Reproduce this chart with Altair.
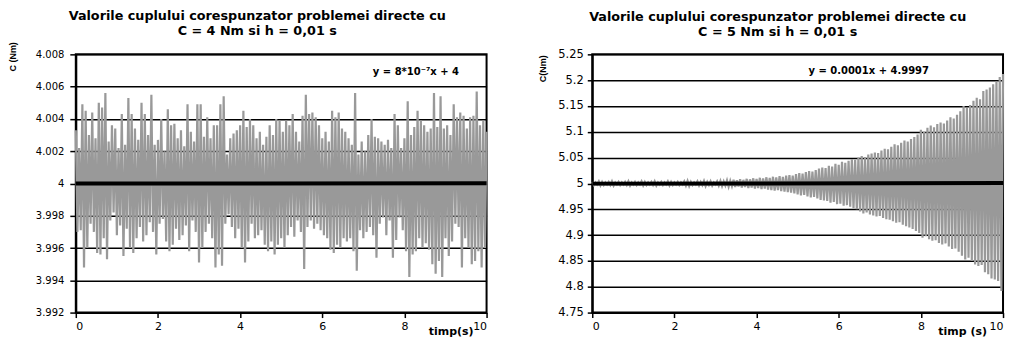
import altair as alt
import pandas as pd

# ---------------- data ----------------
STEP = 0.08  # spacing of successive upper (or lower) swing samples, seconds

left_upper = [
    4.0033, 4.0022, 4.0049, 4.0045, 4.0030, 4.0044, 4.0028, 4.0050, 4.0047, 4.0056,
    4.0026, 4.0036, 4.0034, 4.0022, 4.0043, 4.0024, 4.0053, 4.0043, 4.0034, 4.0027,
    4.0050, 4.0043, 4.0030, 4.0055, 4.0024, 4.0027, 4.0040, 4.0020, 4.0046, 4.0036,
    4.0037, 4.0028, 4.0033, 4.0023, 4.0049, 4.0032, 4.0026, 4.0049, 4.0049, 4.0029,
    4.0041, 4.0028, 4.0036, 4.0036, 4.0049, 4.0054, 4.0018, 4.0028, 4.0031, 4.0033,
    4.0036, 4.0045, 4.0035, 4.0040, 4.0036, 4.0028, 4.0032, 4.0024, 4.0029, 4.0036,
    4.0030, 4.0040, 4.0039, 4.0032, 4.0039, 4.0036, 4.0043, 4.0032, 4.0026, 4.0042,
    4.0055, 4.0043, 4.0044, 4.0041, 4.0036, 4.0028, 4.0032, 4.0026, 4.0045, 4.0041,
    4.0044, 4.0034, 4.0032, 4.0028, 4.0024, 4.0056, 4.0018, 4.0026, 4.0020, 4.0030,
    4.0040, 4.0029, 4.0028, 4.0026, 4.0024, 4.0027, 4.0022, 4.0043, 4.0036, 4.0022,
    4.0028, 4.0051, 4.0030, 4.0035, 4.0045, 4.0039, 4.0036, 4.0032, 4.0034, 4.0056,
    4.0035, 4.0054, 4.0034, 4.0036, 4.0030, 4.0049, 4.0041, 4.0044, 4.0042, 4.0034,
    4.0041, 4.0042, 4.0057, 4.0036, 4.0039, 4.0032,
]
left_lower = [
    3.9970, 3.9971, 3.9948, 3.9960, 3.9975, 3.9970, 3.9957, 3.9956, 3.9966, 3.9953,
    3.9977, 3.9982, 3.9968, 3.9974, 3.9955, 3.9972, 3.9960, 3.9957, 3.9966, 3.9973,
    3.9964, 3.9968, 3.9976, 3.9970, 3.9956, 3.9975, 3.9978, 3.9964, 3.9958, 3.9962,
    3.9972, 3.9965, 3.9968, 3.9974, 3.9958, 3.9977, 3.9970, 3.9951, 3.9960, 3.9970,
    3.9975, 3.9966, 3.9948, 3.9956, 3.9949, 3.9975, 3.9981, 3.9973, 3.9966, 3.9972,
    3.9960, 3.9951, 3.9964, 3.9975, 3.9966, 3.9968, 3.9971, 3.9962, 3.9958, 3.9964,
    3.9956, 3.9962, 3.9966, 3.9960, 3.9968, 3.9973, 3.9967, 3.9977, 3.9970, 3.9947,
    3.9973, 3.9977, 3.9972, 3.9975, 3.9971, 3.9968, 3.9966, 3.9959, 3.9957, 3.9962,
    3.9960, 3.9966, 3.9964, 3.9966, 3.9958, 3.9946, 3.9971, 3.9966, 3.9970, 3.9973,
    3.9968, 3.9954, 3.9975, 3.9979, 3.9968, 3.9977, 3.9954, 3.9965, 3.9979, 3.9971,
    3.9958, 3.9942, 3.9956, 3.9958, 3.9966, 3.9960, 3.9963, 3.9959, 3.9950, 3.9944,
    3.9952, 3.9942, 3.9966, 3.9955, 3.9964, 3.9975, 3.9973, 3.9948, 3.9966, 3.9960,
    3.9950, 3.9952, 3.9958, 3.9948, 3.9960,
]

right_upper = [
    5.003, 5.002, 5.004, 5.003, 5.002, 5.003, 5.004, 5.002, 5.003, 5.002,
    5.003, 5.004, 5.002, 5.003, 5.002, 5.004, 5.003, 5.002, 5.003, 5.004,
    5.002, 5.003, 5.002, 5.004, 5.003, 5.002, 5.003, 5.002, 5.004, 5.005,
    5.003, 5.002, 5.004, 5.003, 5.005, 5.003, 5.004, 5.002, 5.004, 5.005,
    5.004, 5.006, 5.005, 5.007, 5.006, 5.008, 5.007, 5.009, 5.008, 5.010,
    5.009, 5.011, 5.010, 5.012, 5.011, 5.013, 5.012, 5.014, 5.013, 5.015,
    5.016, 5.015, 5.018, 5.020, 5.019, 5.022, 5.024, 5.023, 5.026, 5.029,
    5.031, 5.030, 5.034, 5.033, 5.038, 5.036, 5.042, 5.040, 5.044, 5.047,
    5.046, 5.050, 5.053, 5.051, 5.056, 5.058, 5.060, 5.059, 5.064, 5.067,
    5.066, 5.071, 5.076, 5.074, 5.079, 5.083, 5.081, 5.086, 5.090, 5.095,
    5.104, 5.100, 5.108, 5.112, 5.109, 5.115, 5.118, 5.116, 5.122, 5.128,
    5.126, 5.133, 5.140, 5.150, 5.146, 5.152, 5.160, 5.166, 5.163, 5.179,
    5.182, 5.186, 5.192, 5.198, 5.206, 5.212,
]
right_lower = [
    4.997, 4.998, 4.996, 4.997, 4.998, 4.997, 4.996, 4.998, 4.997, 4.998,
    4.997, 4.996, 4.998, 4.997, 4.998, 4.996, 4.997, 4.998, 4.997, 4.996,
    4.998, 4.997, 4.998, 4.996, 4.997, 4.998, 4.997, 4.998, 4.996, 4.995,
    4.997, 4.998, 4.996, 4.997, 4.995, 4.997, 4.996, 4.998, 4.996, 4.995,
    4.996, 4.994, 4.995, 4.993, 4.994, 4.992, 4.993, 4.991, 4.992, 4.990,
    4.991, 4.989, 4.990, 4.988, 4.987, 4.986, 4.987, 4.985, 4.984, 4.983,
    4.982, 4.981, 4.979, 4.977, 4.978, 4.975, 4.973, 4.974, 4.971, 4.968,
    4.967, 4.966, 4.963, 4.964, 4.960, 4.961, 4.957, 4.958, 4.955, 4.952,
    4.950, 4.946, 4.942, 4.944, 4.940, 4.938, 4.936, 4.937, 4.933, 4.931,
    4.930, 4.927, 4.924, 4.925, 4.920, 4.917, 4.915, 4.912, 4.908, 4.904,
    4.895, 4.898, 4.892, 4.889, 4.890, 4.885, 4.882, 4.884, 4.878, 4.873,
    4.874, 4.868, 4.860, 4.853, 4.856, 4.850, 4.843, 4.840, 4.842, 4.828,
    4.824, 4.816, 4.814, 4.811, 4.792,
]

trend_t = [0, 10]
trend_left_v = [4.0, 4.000008]
trend_right_v = [4.9997, 5.0007]

x_ticks = [0, 2, 4, 6, 8, 10]
left_y_ticks = [3.992, 3.994, 3.996, 3.998, 4.0, 4.002, 4.004, 4.006, 4.008]
right_y_ticks = [4.75, 4.8, 4.85, 4.9, 4.95, 5.0, 5.05, 5.1, 5.15, 5.2, 5.25]

left_title = ["Valorile cuplului corespunzator problemei directe cu", "C = 4 Nm si h = 0,01 s"]
right_title = ["Valorile cuplului corespunzator problemei directe cu", "C = 5 Nm si h = 0,01 s"]
left_eq = {"t": [8.28], "v": [4.0069], "label": ["y = 8*10\u207b\u2077x + 4"]}
right_eq = {"t": [6.73], "v": [5.2186], "label": ["y = 0.0001x + 4.9997"]}

FONT = "DejaVu Sans"


def series(up, dn):
    rows = [{"t": round(k * STEP, 4), "v": v} for k, v in enumerate(up)]
    rows += [{"t": round(STEP / 2 + k * STEP, 4), "v": v} for k, v in enumerate(dn)]
    return pd.DataFrame(rows).sort_values("t")


def panel(up, dn, trend_v, eq, ydom, yticks, title_lines, ytitle, xtitle,
          w, h, ylab_size, ytick, ypad, ytx, yty, xtx, xty, tdx, toff):
    df = series(up, dn)
    tdf = pd.DataFrame({"t": trend_t, "v": trend_v})
    edf = pd.DataFrame(eq)
    x = alt.X("t:Q", scale=alt.Scale(domain=[0, 10], nice=False),
              axis=alt.Axis(values=x_ticks, tickCount=len(x_ticks) + 4, format="d",
                            title=xtitle, grid=False,
                            labelFontSize=11, labelPadding=3, tickSize=5,
                            labelOverlap=False,
                            titleX=xtx, titleY=xty, titleAlign="center",
                            titleBaseline="middle", titleFontSize=11))
    y = alt.Y("v:Q", scale=alt.Scale(domain=ydom, nice=False, zero=False),
              axis=alt.Axis(values=yticks, tickCount=len(yticks) + 4, format=".4~f",
                            title=ytitle, grid=True,
                            gridColor="black", gridWidth=1.5, labelFontSize=ylab_size,
                            tickSize=ytick, labelPadding=ypad, labelOverlap=False,
                            titleX=ytx, titleY=yty, titleAngle=270, titleAlign="center",
                            titleBaseline="middle", titleFont="Liberation Sans",
                            titleFontSize=9))
    line = alt.Chart(df).mark_line(color="#999999", strokeWidth=2.2).encode(x=x, y=y)
    trend = alt.Chart(tdf).mark_line(color="black", strokeWidth=4).encode(x="t:Q", y="v:Q")
    txt = alt.Chart(edf).mark_text(font=FONT, fontWeight="bold", fontSize=10,
                                   color="black").encode(x="t:Q", y="v:Q", text="label:N")
    return alt.layer(line, trend, txt).properties(
        width=w, height=h,
        title=alt.TitleParams(title_lines, font=FONT, fontSize=12.8, fontWeight="bold",
                              lineHeight=15, anchor="middle", dx=tdx, offset=toff,
                              color="black"),
    )


left = panel(left_upper, left_lower, trend_left_v, left_eq, [3.992, 4.008], left_y_ticks,
             left_title, "C (Nm)", "timp(s)", 412, 259, 10, 6, 6, -63, 2, 376, 19, -24, 3.5)
right = panel(right_upper, right_lower, trend_right_v, right_eq, [4.75, 5.25], right_y_ticks,
              right_title, "C(Nm)", "timp (s)", 412, 259, 11.5, 5, 4, -50, 14, 371, 19, -20, 10)

chart = alt.hconcat(left, right, spacing=106, bounds="flush", padding=0).configure(
    font=FONT,
).configure_view(
    stroke="black", strokeWidth=2,
).configure_axis(
    domainColor="black", domainWidth=2, tickColor="black", tickWidth=1.5,
    labelColor="black", titleColor="black", labelFont=FONT,
    titleFontWeight="bold",
)

chart.save("out.html", embed_options={"renderer": "svg", "actions": False})
